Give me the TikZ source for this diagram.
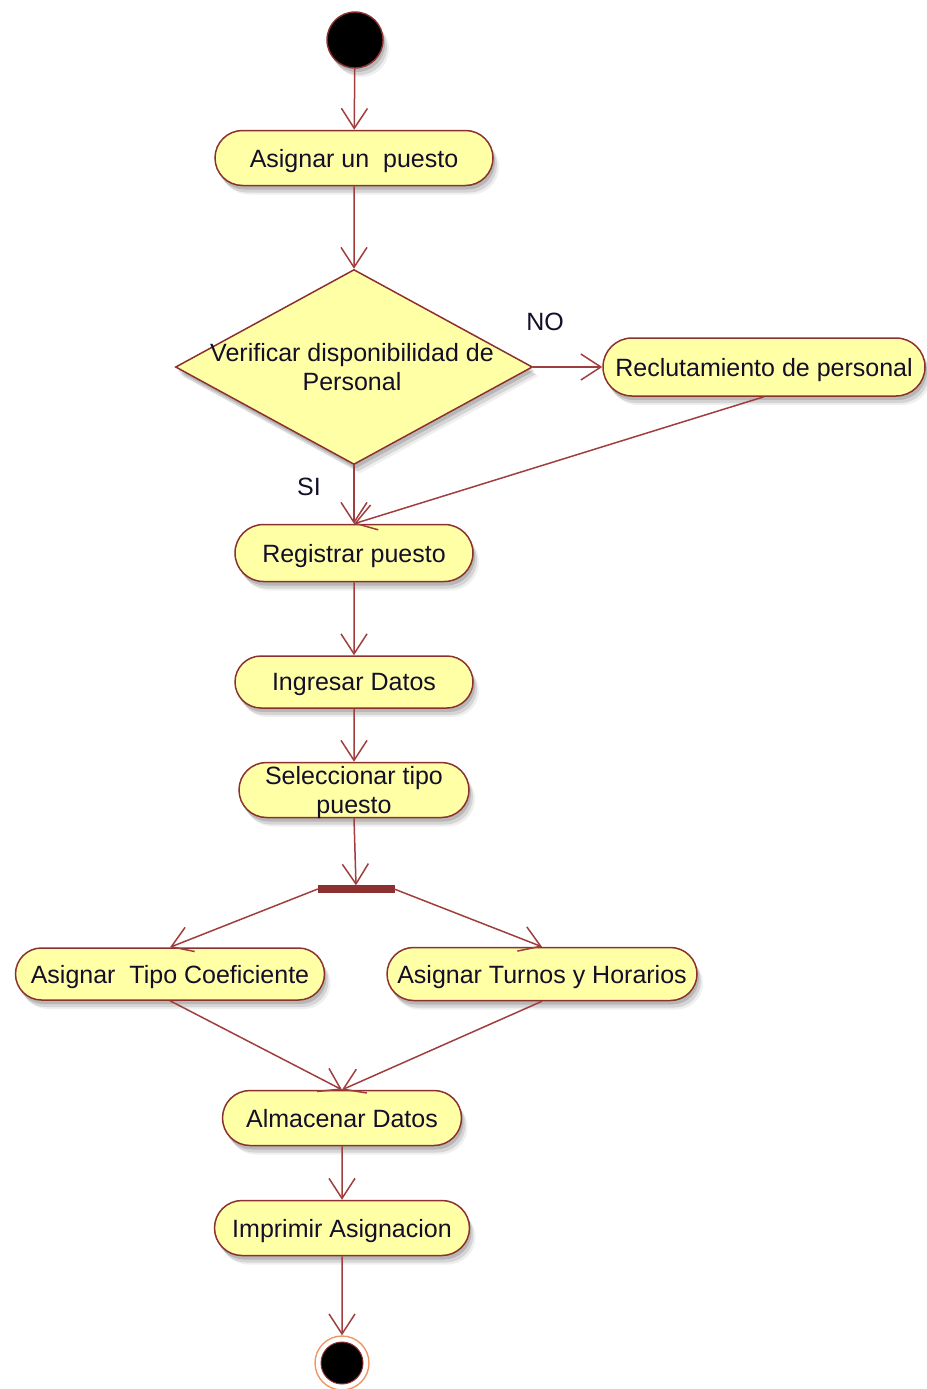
\documentclass[tikz,border=0pt]{standalone}
\usepackage{fontspec}
\setmainfont{Liberation Sans}
\usetikzlibrary{shapes.misc,shapes.geometric,arrows.meta,shadows}

\definecolor{umlline}{RGB}{160,62,62}
\definecolor{umlborder}{RGB}{140,48,48}
\definecolor{umlfill}{RGB}{255,255,165}
\definecolor{umltext}{RGB}{20,15,40}
\definecolor{finalring}{RGB}{240,150,100}
\newcommand\umlfont{\fontsize{25}{29}\selectfont}

\tikzset{
  % a few stacked translucent shadows give a soft edge
  softshadow/.style={
    drop shadow={shadow xshift=2pt,shadow yshift=-4pt,opacity=0.18,fill=black!80},
    drop shadow={shadow xshift=4pt,shadow yshift=-7pt,opacity=0.14,fill=black!80},
    drop shadow={shadow xshift=6pt,shadow yshift=-9pt,opacity=0.08,fill=black!80}},
  action/.style={rounded rectangle, draw=umlborder, line width=1.5pt, fill=umlfill,
    inner sep=0pt, font=\umlfont, text=umltext, align=center, text depth=0pt, softshadow},
  decision/.style={diamond, draw=umlborder, line width=1.5pt, fill=umlfill,
    inner sep=0pt, softshadow},
  flow/.style={draw=umlline, line width=1.5pt, -{Straight Barb[length=20pt,width=26pt]}},
  guard/.style={font=\umlfont, text=umltext, inner sep=0pt},
}

\begin{document}
\begin{tikzpicture}[x=1pt,y=-1pt]
  \useasboundingbox (0,0) rectangle (926,1389);

  % initial node
  \node (start) [circle, fill=black, draw=umlborder, line width=1.4pt, minimum size=56pt,
    inner sep=0pt, softshadow] at (355,40) {};

  % actions
  \node (asig) [action, minimum width=278pt, minimum height=55pt] at (354,158) {Asignar un\ \ puesto};
  \node (dec) [decision, minimum width=357pt, minimum height=195pt] at (354,367) {};
  \node (dectext) [font=\umlfont, text=umltext, align=center, inner sep=0pt, text depth=0pt] at (352,367)
    {Verificar disponibilidad de\\Personal};
  \node (recl) [action, minimum width=322pt, minimum height=58pt] at (764,367) {Reclutamiento de personal};
  \node (reg) [action, minimum width=238pt, minimum height=57pt] at (354,553) {Registrar puesto};
  \node (ing) [action, minimum width=238pt, minimum height=52pt] at (354,682) {Ingresar Datos};
  \node (sel) [action, minimum width=230pt, minimum height=55pt] at (354,790) {Seleccionar tipo\\puesto};

  % fork bar
  \node (fork) [rectangle, fill=umlborder, draw=umlborder, minimum width=76pt, minimum height=7pt,
    inner sep=0pt] at (356,889) {};

  \node (tipo) [action, minimum width=309pt, minimum height=52pt] at (170,974) {Asignar\ \ Tipo Coeficiente};
  \node (turn) [action, minimum width=310pt, minimum height=53pt] at (542,974) {Asignar Turnos y Horarios};
  \node (alm) [action, minimum width=239pt, minimum height=55pt] at (342,1118) {Almacenar Datos};
  \node (imp) [action, minimum width=255pt, minimum height=55pt] at (342,1228) {Imprimir Asignacion};

  % final node
  \node (fin) [circle, draw=finalring, fill=white, line width=1.4pt, minimum size=54pt, inner sep=0pt]
    at (342,1363) {};
  \node (finin) [circle, fill=black, draw=umlborder, line width=1pt, minimum size=42pt, inner sep=0pt]
    at (fin.center) {};

  % guard labels
  \node (no) [guard] at (545,322) {NO};
  \node (si) [guard] at (309,487) {SI};

  % control flows
  \draw[flow] (start) -- (asig);
  \draw[flow] (asig) -- (dec.north);
  \draw[flow] (dec.east) -- (recl.west);
  \draw[flow] (dec.south) -- (reg.north);
  \draw[flow] (recl.south) -- (reg.north);
  \draw[flow] (reg) -- (ing);
  \draw[flow] (ing) -- (sel);
  \draw[flow] (sel.south) -- (fork.north);
  \draw[flow] (fork.west) -- (tipo.north);
  \draw[flow] (fork.east) -- (turn.north);
  \draw[flow] (tipo.south) -- (alm.north);
  \draw[flow] (turn.south) -- (alm.north);
  \draw[flow] (alm) -- (imp);
  \draw[flow] (imp) -- (fin);
\end{tikzpicture}
\end{document}
